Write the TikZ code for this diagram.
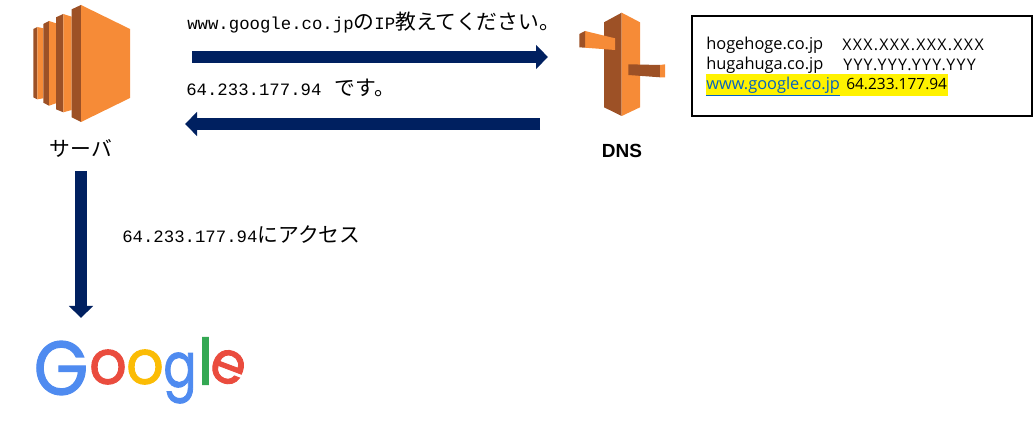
\documentclass[tikz,border=0pt]{standalone}
\usepackage{fontspec}
\usetikzlibrary{arrows.meta}
\setmainfont{Liberation Sans}
\setmonofont{Liberation Mono}
\newfontfamily\cjkfont{Noto Sans CJK JP}
\newfontfamily\tablefont{Open Sans}
\newfontfamily\widetablefont{Open Sans}[LetterSpace=8]
\newfontfamily\logofont{Poppins}[FakeBold=1.6]
\newcommand{\jp}[1]{{\fontsize{15.6pt}{18pt}\cjkfont #1}}
\definecolor{awslight}{HTML}{F68B37}
\definecolor{awsdark}{HTML}{9D5126}
\definecolor{arrowblue}{HTML}{002060}
\definecolor{linkblue}{HTML}{0563C1}
\definecolor{gblue}{HTML}{4F8BF0}
\definecolor{gred}{HTML}{EA4C3E}
\definecolor{gyellow}{HTML}{FBBC05}
\definecolor{ggreen}{HTML}{34A853}
\tikzset{
  x=0.75pt, y=-0.75pt,
  msglabel/.style={anchor=west, inner sep=0pt, font=\fontsize{13pt}{15pt}\ttfamily},
  tablerow/.style={anchor=west, inner sep=0pt, font=\fontsize{12.3pt}{14pt}\tablefont},
  iprow/.style={anchor=west, inner sep=0pt, font=\fontsize{12pt}{14pt}\widetablefont},
  hilite/.style={anchor=west, inner sep=0pt, fill=yellow, align=left, text height=11.5pt, text depth=5pt},
  bigarrow/.style={draw=arrowblue, line width=9pt, -{Triangle[length=9pt, width=17.5pt]}},
  logoletter/.style={inner sep=0pt, font=\fontsize{#1}{60pt}\logofont},
}
\begin{document}
\begin{tikzpicture}
  \useasboundingbox (0,0) rectangle (1034,427);

  % server icon
  \fill[awsdark] (33.3,29) -- (37.3,27) -- (37.3,99.3) -- (33.3,97.3) -- cycle;
  \fill[awslight] (37.3,27) -- (43.3,28.3) -- (43.3,98.3) -- (37.3,99.3) -- cycle;
  \fill[awsdark] (43.3,24) -- (49,21) -- (49,105.7) -- (43.3,102.7) -- cycle;
  \fill[awslight] (49,21) -- (56,23.3) -- (56,103.3) -- (49,105.7) -- cycle;
  \fill[awsdark] (56,17.3) -- (63.3,14) -- (63.3,112.3) -- (56,109.3) -- cycle;
  \fill[awslight] (63.3,14) -- (71.7,16.7) -- (71.7,110) -- (63.3,112.3) -- cycle;
  \fill[awsdark] (71.7,9.3) -- (81,5) -- (81,122) -- (71.7,117.3) -- cycle;
  \fill[awslight] (81,5) -- (130,29) -- (130,98) -- (81,122) -- cycle;
  \node[font=\fontsize{15.6pt}{18pt}\cjkfont, inner sep=0pt] (server) at (81,148) {サーバ};

  % dns icon
  \fill[awsdark] (604,22.3) -- (621.7,12.7) -- (621.7,116) -- (604,107.3) -- cycle;
  \fill[awslight] (621.7,12.7) -- (640,22.3) -- (640,107.3) -- (621.7,116) -- cycle;
  \fill[awslight] (585,31) -- (615,38.3) -- (615,50) -- (585,47.7) -- cycle;
  \fill[awsdark] (579.3,34) -- (585,31) -- (585,47.7) -- (579.3,47.3) -- cycle;
  \fill[awsdark] (628.3,64.3) -- (660,65) -- (660,77.3) -- (628.3,75) -- cycle;
  \fill[awslight] (660,65) -- (665,64.3) -- (665,77.3) -- (660,77.3) -- cycle;
  \node[font=\fontsize{14.25pt}{17pt}\bfseries, inner sep=0pt] (dns) at (622,151) {DNS};

  % record table
  \node[draw, line width=1.5pt, minimum width=255pt, minimum height=75pt, inner sep=0pt] (dnstable) at (862,66) {};
  \node[tablerow] (hogename) at (706,45) {hogehoge.co.jp};
  \node[iprow] (hogeip) at (842,45) {XXX.XXX.XXX.XXX};
  \node[tablerow] (huganame) at (706,65) {hugahuga.co.jp};
  \node[iprow] (hugaip) at (843,65) {YYY.YYY.YYY.YYY};
  \node[hilite, text width=105pt, font=\fontsize{12.3pt}{14pt}\tablefont] (googlename) at (706,85) {\textcolor{linkblue}{\underline{www.google.co.jp}}};
  \node[hilite, text width=76.5pt, font=\fontsize{11.6pt}{14pt}\tablefont] (googleip) at (846,85) {64.233.177.94};

  % messages
  \node[msglabel] (question) at (187,23) {www.google.co.jp\jp{の}IP\jp{教えてください。}};
  \node[msglabel] (answer) at (186,88) {64.233.177.94\hspace{10pt}\jp{です。}};
  \node[msglabel] (access) at (122,235) {64.233.177.94\jp{にアクセス}};

  % arrows
  \coordinate (reqstart) at (192,57);
  \coordinate (reqend) at (548,57);
  \coordinate (resstart) at (540,124);
  \coordinate (resend) at (185,124);
  \coordinate (accstart) at (81,171);
  \coordinate (accend) at (81,318);
  \draw[bigarrow] (reqstart) -- (reqend);
  \draw[bigarrow] (resstart) -- (resend);
  \draw[bigarrow] (accstart) -- (accend);

  % google logo
  \node[logoletter=57pt, xscale=.92, text=gblue] (logog) at (61,368) {G};
  \node[logoletter=46pt, xscale=.96, text=gred] (logoo) at (108,367) {o};
  \node[logoletter=46pt, xscale=.96, text=gyellow] (logooo) at (145,367) {o};
  \node[logoletter=46pt, xscale=.8, text=gblue] (logogg) at (180,378) {g};
  \node[logoletter=48pt, text=ggreen] (logol) at (205.5,361) {l};
  \node[logoletter=44pt, xscale=.96, text=gred, rotate=-20] (logoe) at (228,367) {e};
\end{tikzpicture}
\end{document}
